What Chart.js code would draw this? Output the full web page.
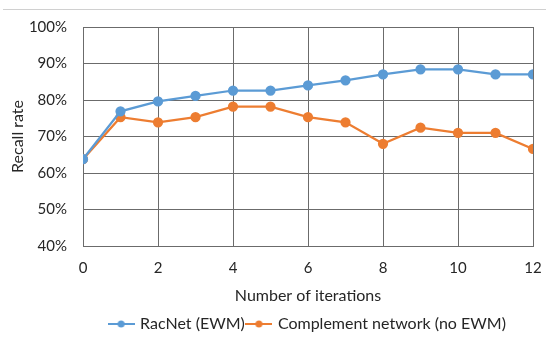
<!DOCTYPE html>
<html>
<head>
<meta charset="utf-8">
<script src="https://cdn.jsdelivr.net/npm/chart.js@4/dist/chart.umd.min.js"></script>
<style>
  html, body { margin: 0; padding: 0; background: #fff; overflow: hidden; }
  #wrap { position: relative; width: 546px; height: 337px; }
  #recallChart { display: block; }
  #topline { position: absolute; left: 3px; right: 0; top: 9px; border-top: 1px solid #d0d0d0; }
</style>
</head>
<body>
<div id="wrap">
  <div id="topline"></div>
  <canvas id="recallChart" width="546" height="337"></canvas>
</div>
<script>
var iterations = [0, 1, 2, 3, 4, 5, 6, 7, 8, 9, 10, 11, 12];
var racnet = [63.8, 76.9, 79.6, 81.1, 82.6, 82.6, 84.0, 85.4, 87.0, 88.4, 88.4, 87.0, 87.0];
var complement = [63.8, 75.3, 73.9, 75.3, 78.2, 78.2, 75.3, 73.9, 68.0, 72.4, 71.0, 71.0, 66.6];
var seriesNames = ['RacNet (EWM)', 'Complement network (no EWM)'];

function toPoints(vals) {
    return iterations.map(function (x, i) { return { x: x, y: vals[i] }; });
}

// excel style legend marker: short line with a dot in the middle
function legendIcon(color) {
    var c = document.createElement('canvas');
    c.width = 27; c.height = 10;
    var g = c.getContext('2d');
    g.strokeStyle = color;
    g.lineWidth = 2;
    g.beginPath(); g.moveTo(0, 5); g.lineTo(27, 5); g.stroke();
    g.fillStyle = color;
    g.beginPath(); g.arc(13.5, 5, 3.5, 0, Math.PI * 2); g.fill();
    return c;
}

var blue = '#5B9BD5';
var orange = '#ED7D31';
var gridColor = '#6b6b6b';
var textColor = '#262626';

Chart.defaults.font.family = 'Lato, "Open Sans", sans-serif';
Chart.defaults.color = textColor;

var recall_chart = document.getElementById('recallChart');
var recallChart = new Chart(recall_chart, {
    type: 'scatter',
    data: {
        datasets: [{
            label: seriesNames[0],
            data: toPoints(racnet),
            showLine: true,
            borderColor: blue,
            backgroundColor: blue,
            borderWidth: 2.25,
            pointRadius: 4,
            pointHoverRadius: 4
        }, {
            label: seriesNames[1],
            data: toPoints(complement),
            showLine: true,
            borderColor: orange,
            backgroundColor: orange,
            borderWidth: 2.25,
            pointRadius: 4,
            pointHoverRadius: 4
        }]
    },
    options: {
        responsive: false,
        animation: false,
        layout: {
            padding: { top: 27, right: 13, bottom: -5, left: 0 }
        },
        plugins: {
            legend: {
                position: 'bottom',
                fullSize: false,
                labels: {
                    usePointStyle: true,
                    pointStyleWidth: 22,
                    boxHeight: 10,
                    padding: 3,
                    font: { size: 16 },
                    generateLabels: function (chart) {
                        var items = Chart.defaults.plugins.legend.labels.generateLabels(chart);
                        items.forEach(function (it) {
                            it.pointStyle = legendIcon(chart.data.datasets[it.datasetIndex].borderColor);
                        });
                        return items;
                    }
                }
            },
            tooltip: { enabled: false }
        },
        scales: {
            x: {
                type: 'linear',
                min: 0,
                max: 12,
                ticks: {
                    stepSize: 2,
                    font: { size: 15 },
                    padding: 13
                },
                grid: {
                    color: gridColor,
                    drawTicks: false
                },
                border: { color: gridColor },
                title: {
                    display: true,
                    text: 'Number of iterations',
                    font: { size: 16 },
                    padding: { top: 4, bottom: 8 }
                },
                afterFit: function (scale) {
                    scale.height = 67;
                    scale.paddingLeft = 0;
                    scale.paddingRight = 0;
                }
            },
            y: {
                min: 40,
                max: 100,
                ticks: {
                    stepSize: 10,
                    font: { size: 15 },
                    padding: 16,
                    callback: function (v) { return v + '%'; }
                },
                grid: {
                    color: gridColor,
                    drawTicks: false
                },
                border: { color: gridColor },
                title: {
                    display: true,
                    text: 'Recall rate',
                    font: { size: 16 },
                    padding: { top: 8, bottom: 4 }
                },
                afterFit: function (scale) { scale.width = 83; }
            }
        }
    }
});
</script>
</body>
</html>
